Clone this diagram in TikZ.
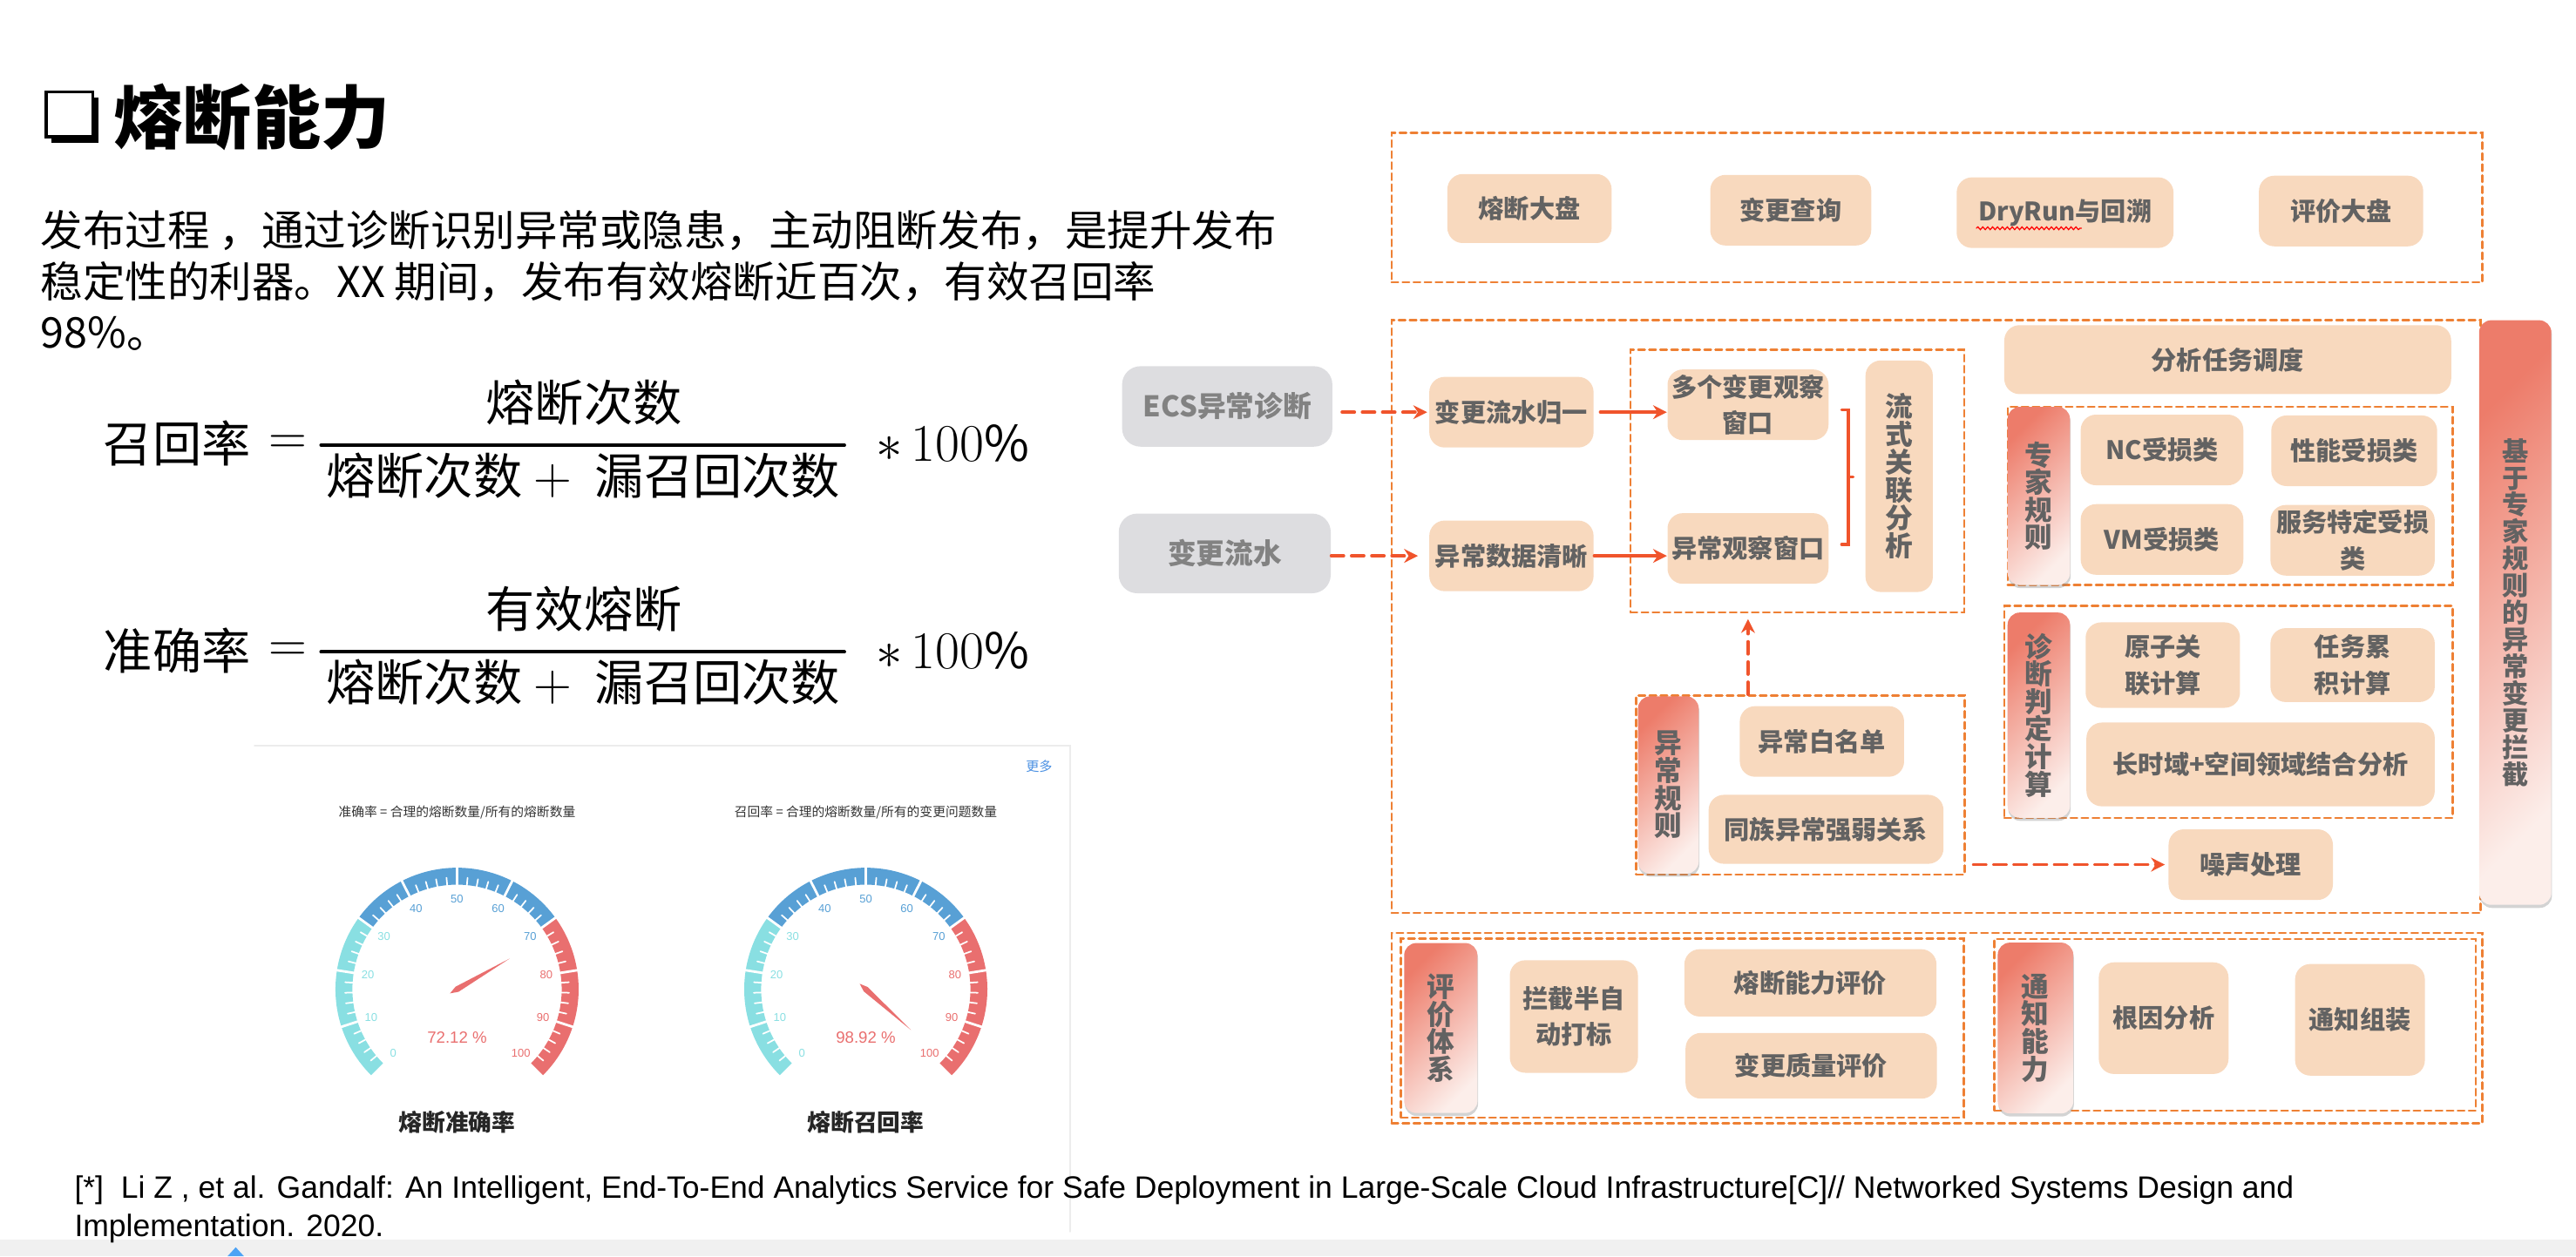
\documentclass[tikz,border=0pt]{standalone}
\usepackage{fontspec}
\setmainfont{Noto Sans CJK SC}
\newfontfamily\latinsans{Liberation Sans}
\usetikzlibrary{arrows.meta,shadows,decorations.pathmorphing}

\definecolor{peach}{RGB}{248,217,190}
\definecolor{boxtext}{RGB}{98,98,98}
\definecolor{greyfill}{RGB}{221,221,224}
\definecolor{greytext}{RGB}{130,130,130}
\definecolor{dashorange}{RGB}{238,128,52}
\definecolor{flowred}{RGB}{240,84,44}
\definecolor{bardark}{RGB}{237,124,106}
\definecolor{barlight}{RGB}{252,238,234}
\definecolor{gcyan}{RGB}{137,223,226}
\definecolor{gblue}{RGB}{88,160,213}
\definecolor{gred}{RGB}{233,111,111}
\definecolor{linkblue}{RGB}{74,144,226}
\definecolor{cardline}{RGB}{236,236,236}
\definecolor{barfill}{RGB}{240,240,240}
\definecolor{caretblue}{RGB}{77,163,245}

\tikzset{
  wh/.style 2 args={minimum width=#1*0.01885cm, minimum height=#2*0.01885cm},
  peachbox/.style={rounded corners=5pt, fill=peach, text=boxtext, inner sep=0pt,
    align=center, font=\fontsize{8.3}{11.8}\selectfont\bfseries},
  greybox/.style={rounded corners=6pt, fill=greyfill, text=greytext, inner sep=0pt,
    font=\fontsize{9.3}{11}\selectfont\bfseries},
  rulebar/.style={rounded corners=4pt, top color=bardark, bottom color=barlight,
    shading angle=45, text=boxtext, inner sep=0pt, align=center,
    font=\fontsize{9}{9}\selectfont\bfseries,
    drop shadow={shadow xshift=0.2pt, shadow yshift=-1pt, opacity=0.35}},
  vtext/.style={font=\fontsize{9}{9.1}\selectfont\bfseries},
  dashbox/.style={draw=dashorange, line width=0.7pt, dash pattern=on 2.2pt off 1.4pt,
    inner sep=0pt},
  flowdash/.style={draw=flowred, line width=1.1pt, dash pattern=on 4pt off 2.6pt,
    -{Stealth[length=4.5pt,width=4.5pt]}},
  flowline/.style={draw=flowred, line width=1pt, -{Stealth[length=4.5pt,width=4.5pt]}},
  para/.style={anchor=base west, inner sep=0pt, font=\fontsize{13.8}{16}\selectfont},
  formula/.style={inner sep=0pt, font=\fontsize{16}{16}\selectfont},
}

\begin{document}
\begin{tikzpicture}[x=0.01885cm, y=-0.01885cm, line cap=round]
\useasboundingbox (0,0) rectangle (1568,765);

% heading and text
\fill (31.5,59.5) rectangle (60,87);
\filldraw[fill=white, line width=1.1pt] (28,56) rectangle (56.5,83.5);
\node[anchor=base west, inner sep=0pt, font=\fontsize{22.5}{22.5}\selectfont\bfseries]
  (title) at (69,87.5) {熔断能力};
\node[para] (line1) at (24.4,150) {发布过程 ，通过诊断识别异常或隐患，主动阻断发布，是提升发布};
\node[para] (line2) at (24.4,181) {稳定性的利器。XX 期间，发布有效熔断近百次，有效召回率};
\node[para] (line3) at (24.4,212) {98\%。};

% formulas
\node[formula] (reclab) at (107.75,270) {召回率};
\node[formula] (receq) at (175,271) {$=$};
\node[formula] (recnum) at (355.5,245) {熔断次数};
\node[formula] (recden) at (355,289.5) {熔断次数${}+{}$\ 漏召回次数};
\node[formula] (recpct) at (580,270) {$\ast\,100\%$};
\draw[line width=1.1pt] (195.4,271) -- (514,271);

\node[formula] (acclab) at (107.75,396) {准确率};
\node[formula] (acceq) at (175,397) {$=$};
\node[formula] (accnum) at (355.5,371) {有效熔断};
\node[formula] (accden) at (355,415.5) {熔断次数${}+{}$\ 漏召回次数};
\node[formula] (accpct) at (580,396) {$\ast\,100\%$};
\draw[line width=1.1pt] (195.4,397) -- (514,397);

% gauge card
\draw[cardline, line width=0.6pt] (155,454) -- (651.5,454) -- (651.5,750);
\node[text=linkblue, inner sep=0pt, font=\fontsize{4.3}{5}\selectfont] (more) at (632.5,466.5) {更多};

\foreach \gi/\gx/\gval/\gcap/\gname in
   {1/278.2/72.12/{准确率 = 合理的熔断数量/所有的熔断数量}/熔断准确率,
    2/527/98.92/{召回率 = 合理的熔断数量/所有的变更问题数量}/熔断召回率}{
  \node[text=black!80, inner sep=0pt, font=\fontsize{4.2}{5}\selectfont] (cap\gi) at (\gx,494.8) {\gcap};
  \node[text=black!85, inner sep=0pt, font=\fontsize{7.6}{8}\selectfont\bfseries] (name\gi) at (\gx,683.5) {\gname};
  \begin{scope}[shift={(\gx,602.4)}, yscale=-1]
    \foreach \k in {0,...,9}{
      \pgfmathsetmacro{\aa}{225-27*\k}
      \pgfmathsetmacro{\ab}{225-27*(\k+1)}
      \ifnum\k<3 \def\gcol{gcyan}\else\ifnum\k<7 \def\gcol{gblue}\else\def\gcol{gred}\fi\fi
      \fill[\gcol] (\aa:74) arc[start angle=\aa, end angle=\ab, radius=74]
        -- (\ab:63.7) arc[start angle=\ab, end angle=\aa, radius=63.7] -- cycle;
      \foreach \j in {1,...,4}
        \draw[white, line width=0.5pt] (\aa-5.4*\j:63) -- (\aa-5.4*\j:68.2);
    }
    \foreach \k in {1,...,9}
      \draw[white, line width=0.8pt] (225-27*\k:62) -- (225-27*\k:76);
    \foreach \v in {0,10,...,100}{
      \ifnum\v<31 \def\lcol{gcyan}\else\ifnum\v<71 \def\lcol{gblue}\else\def\lcol{gred}\fi\fi
      \node[text=\lcol, inner sep=0pt, font=\latinsans\fontsize{3.7}{4}\selectfont]
        (lab\gi-\v) at (225-2.7*\v:55) {\v};
    }
    \pgfmathsetmacro{\pa}{225-2.7*\gval}
    \fill[gred] (\pa:37) -- (\pa+90:1.8) -- (\pa+180:5) -- (\pa-90:1.8) -- cycle;
    \node[text=gred, inner sep=0pt, font=\latinsans\fontsize{5.3}{6}\selectfont]
      (val\gi) at (0,-29.3) {\gval\ \%};
  \end{scope}
}

% bottom strip and reference
\fill[barfill] (0,754.7) rectangle (1568,765);
\fill[caretblue] (143.5,759.5) -- (148.5,765) -- (138.5,765) -- cycle;
\node[anchor=base west, inner sep=0pt, font=\latinsans\fontsize{10.1}{12}\selectfont] (ref1) at (45,729.5)
  {[*]\ \ Li Z , et al. Gandalf: An Intelligent, End-To-End Analytics Service for Safe Deployment in Large-Scale Cloud Infrastructure[C]// Networked Systems Design and};
\node[anchor=base west, inner sep=0pt, font=\latinsans\fontsize{10.1}{12}\selectfont] (ref2) at (45,753)
  {Implementation. 2020.};

% dashed panels
\node[dashbox, wh={664}{91}] (toppanel) at (1179,126.5) {};
\node[dashbox, wh={663}{361}] (mainpanel) at (1178.5,375.5) {};
\node[dashbox, wh={203}{160}] (winpanel) at (1094,293) {};
\node[dashbox, wh={200}{109}] (rulespanel) at (1096,478) {};
\node[dashbox, wh={271}{108.5}] (expertpanel) at (1357.5,302) {};
\node[dashbox, wh={273}{129}] (diagpanel) at (1356.5,433.5) {};
\node[dashbox, wh={664}{116}] (lowpanel) at (1179,626) {};
\node[dashbox, wh={342.5}{109}] (evalpanel) at (1024,626) {};
\node[dashbox, wh={293}{104.5}] (notifypanel) at (1360.5,624) {};

% top row
\node[peachbox, wh={100}{42}] (board) at (931,127) {熔断大盘};
\node[peachbox, wh={98}{43}] (query) at (1090,128) {变更查询};
\node[peachbox, wh={132}{43}] (dryrun) at (1257,129.5) {DryRun与回溯};
\node[peachbox, wh={100}{43}] (evalboard) at (1425,128.5) {评价大盘};
\draw[red, line width=0.35pt, decorate, decoration={snake, amplitude=0.45pt, segment length=1.6pt}]
  (1203,139) -- (1267,139);

% inputs and windows
\node[greybox, wh={128}{49}] (ecs) at (747,247.5) {ECS异常诊断};
\node[greybox, wh={129}{48.5}] (flow) at (745.5,337) {变更流水};
\node[peachbox, wh={100}{43}] (norm) at (920,251) {变更流水归一};
\node[peachbox, wh={100}{43}] (clean) at (920,338.5) {异常数据清晰};
\node[peachbox, wh={98}{43}] (multi) at (1064,246.5) {多个变更观察\\窗口};
\node[peachbox, wh={98}{43}] (anom) at (1064,334) {异常观察窗口};
\node[peachbox, vtext, wh={41}{141}] (stream) at (1156,290) {流\\式\\关\\联\\分\\析};
\draw[flowred, line width=1pt] (1121,249.5) -- (1125,249.5) -- (1125,331.6) -- (1121,331.6)
  (1125,290.5) -- (1128,290.5);

% rules
\node[rulebar, wh={37}{108}] (rulesbar) at (1015.5,478) {异\\常\\规\\则};
\node[peachbox, wh={100}{43}] (whitelist) at (1109,451.5) {异常白名单};
\node[peachbox, wh={143}{42}] (family) at (1111.5,505) {同族异常强弱关系};
\node[peachbox, wh={100}{43}] (noise) at (1370,526.5) {噪声处理};

% expert and diagnosis
\node[peachbox, wh={272}{42}] (sched) at (1356,219) {分析任务调度};
\node[rulebar, wh={38}{108.5}] (expertbar) at (1241,302) {专\\家\\规\\则};
\node[peachbox, wh={99}{43}] (nc) at (1316,274) {NC受损类};
\node[peachbox, wh={101}{43}] (perf) at (1433,274.5) {性能受损类};
\node[peachbox, wh={99}{43}] (vm) at (1316,328.5) {VM受损类};
\node[peachbox, wh={100}{43}] (svc) at (1432,329) {服务特定受损\\类};
\node[rulebar, wh={38}{125}] (diagbar) at (1241,435.5) {诊\\断\\判\\定\\计\\算};
\node[peachbox, wh={94}{52}] (atom) at (1316.5,405) {原子关\\联计算};
\node[peachbox, wh={100}{45}] (accu) at (1432,405) {任务累\\积计算};
\node[peachbox, wh={212}{51}] (longrange) at (1376,465.5) {长时域+空间领域结合分析};
\node[rulebar, font=\fontsize{8.6}{8.8}\selectfont\bfseries, wh={44}{356}] (intercept) at (1531,373)
  {基\\于\\专\\家\\规\\则\\的\\异\\常\\变\\更\\拦\\截};

% evaluation and notification
\node[rulebar, wh={44.6}{103.5}] (evalbar) at (877,626) {评\\价\\体\\系};
\node[peachbox, wh={78}{68.5}] (semi) at (958,619) {拦截半自\\动打标};
\node[peachbox, wh={153.5}{41}] (capeval) at (1102,598.5) {熔断能力评价};
\node[peachbox, wh={153}{40}] (quality) at (1102.5,649) {变更质量评价};
\node[rulebar, wh={46}{104}] (notifybar) at (1239,626) {通\\知\\能\\力};
\node[peachbox, wh={79}{68}] (rootcause) at (1317,620) {根因分析};
\node[peachbox, wh={79}{68}] (assemble) at (1436.5,621) {通知组装};

% connectors
\draw[flowdash, shorten <=3pt, shorten >=0.5pt] (ecs.east |- norm.west) -- (norm.west);
\draw[flowdash, shorten >=3.5pt] (flow.east |- clean.west) -- (clean.west);
\draw[flowline, shorten <=2pt] (norm.east) -- (multi.west |- norm.east);
\draw[flowline] (clean.east) -- (anom.west |- clean.east);
\draw[flowdash, shorten >=1.8pt] (rulespanel.north -| anom) -- (winpanel.south -| anom);
\draw[flowdash, shorten <=2.5pt, shorten >=1pt] (rulespanel.east |- noise) -- (noise.west);
\end{tikzpicture}
\end{document}
